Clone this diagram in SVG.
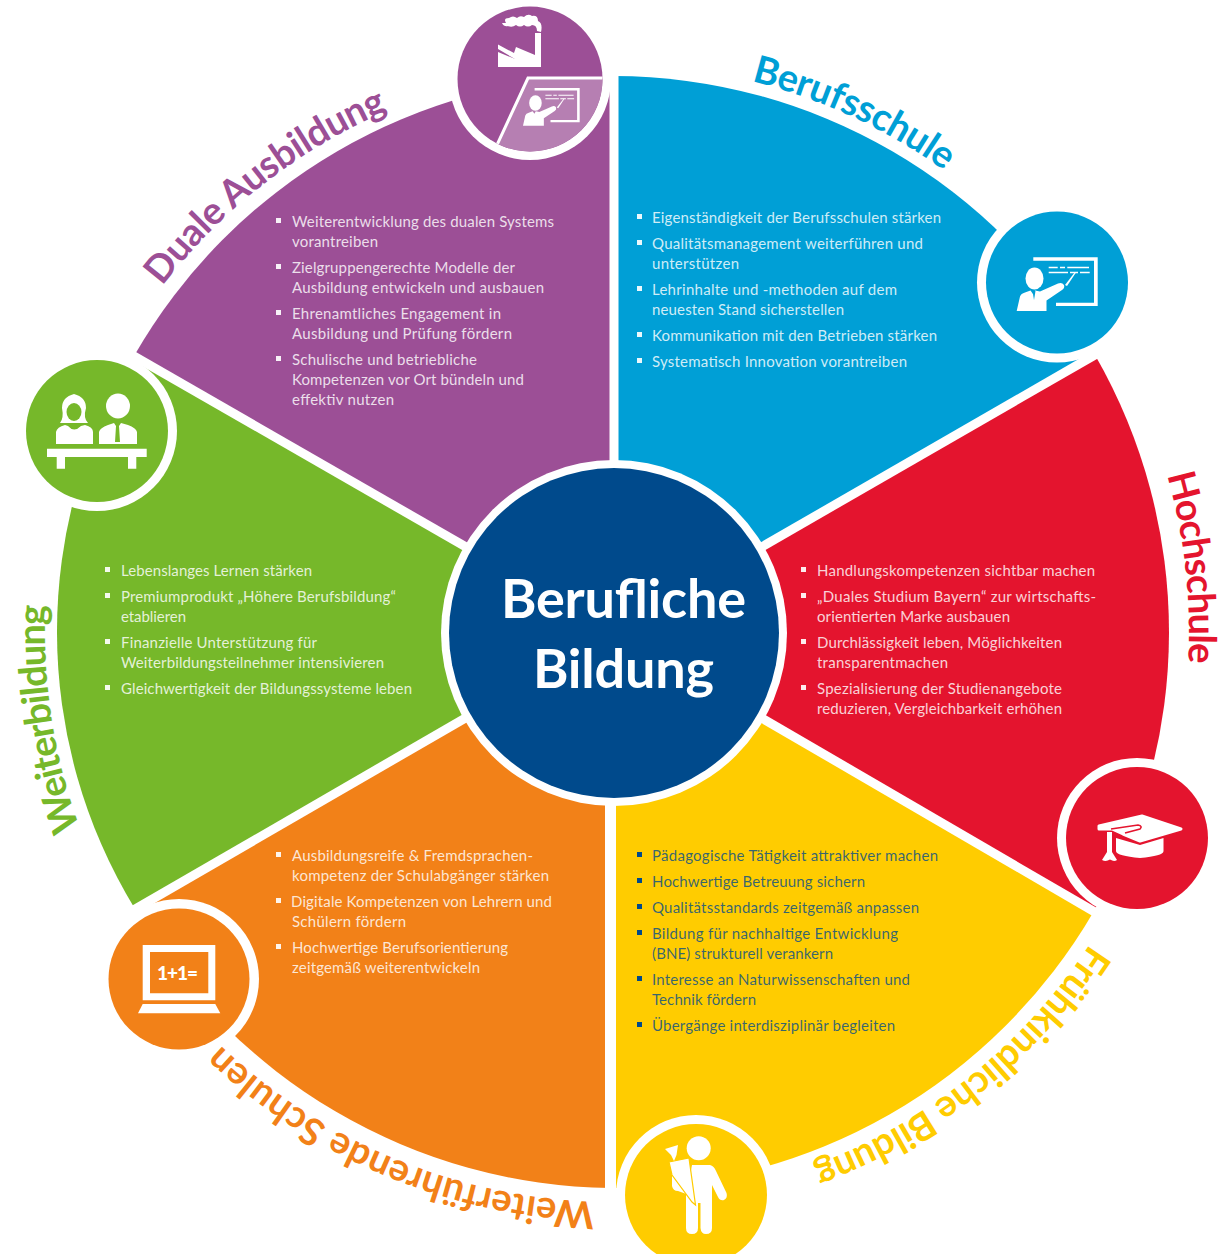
<svg xmlns="http://www.w3.org/2000/svg" width="1226" height="1254" viewBox="0 0 1226 1254">
<style>
text{font-family:Lato,"Noto Sans","Liberation Sans",sans-serif}
.b{font-size:15px;fill:#fff;fill-opacity:.82}
.y{font-size:15px;fill:#004a8c;fill-opacity:.78}
.d{fill:#fff;fill-opacity:.92}
.h{font-size:38px;font-weight:700}
.c{font-size:54px;font-weight:700;fill:#fff}
.ring{fill:#fff}
.w{fill:#fff}
</style>
<defs>
<path id="a1" d="M751.4,81.1A568,568 0 0 1 978.1,196.9"/>
<path id="a2" d="M1167.2,475.1A576,576 0 0 1 1183.4,712.2"/>
<path id="a3" d="M1090,944A570,570 0 0 1 760.5,1182.6"/>
<path id="a4" d="M595.1,1201.7A570,570 0 0 1 189.4,1013.4"/>
<path id="a5" d="M80,828.1A568,568 0 0 1 50.5,552.9"/>
<path id="a6" d="M162.3,286.2A568,568 0 0 1 437.5,91.8"/>
<g id="presenter">
<path class="w" d="M63.3,57.3H127.7V106H86V102.7H124V60.7H63.3Z"/>
<path class="w" d="M78.7,66.7H87.7V68.3H78.7ZM90,66.7H95V68.3H90ZM97.3,66.7H119V68.3H97.3ZM78.7,71.7H98V73.3H78.7ZM100,71.7H108V73.3H100ZM110,71.7H119.7V73.3H110Z"/>
<ellipse class="w" cx="64.5" cy="78.5" rx="9" ry="11"/>
<path class="w" d="M46.7,111L50,96.5Q51,93.5 55,92.5L60.5,90.5L63,94L65,90.5L70,91.5L88,83.5Q92,82 94,85Q95,88 92,90L76.5,100.5V111Z"/>
<path class="w" d="M95,85L105,72L106,72.5L97,86Z"/>
</g>
</defs>
<g id="duale-ausbildung">
<path d="M614,632V76A556,556 0 0 0 134,356Z" fill="#9c4f96"/>
<text class="h" fill="#9c4f96"><textPath href="#a6" textLength="289">Duale Ausbildung</textPath></text>
<g>
<rect class="d" x="276" y="218" width="5" height="5"/><rect class="d" x="276" y="264" width="5" height="5"/><rect class="d" x="276" y="310" width="5" height="5"/><rect class="d" x="276" y="356" width="5" height="5"/>
<text class="b" x="292" y="227" textLength="262">Weiterentwicklung des dualen Systems</text>
<text class="b" x="292" y="247" textLength="86">vorantreiben</text>
<text class="b" x="292" y="273" textLength="223">Zielgruppengerechte Modelle der</text>
<text class="b" x="292" y="293" textLength="252">Ausbildung entwickeln und ausbauen</text>
<text class="b" x="292" y="319" textLength="209">Ehrenamtliches Engagement in</text>
<text class="b" x="292" y="339" textLength="220">Ausbildung und Prüfung fördern</text>
<text class="b" x="292" y="365" textLength="185">Schulische und betriebliche</text>
<text class="b" x="292" y="385" textLength="232">Kompetenzen vor Ort bündeln und</text>
<text class="b" x="292" y="405" textLength="102">effektiv nutzen</text>
</g>
</g>
<g id="berufsschule">
<path d="M614,632V76A556,556 0 0 1 1095,355Z" fill="#009fd6"/>
<text class="h" fill="#009fd6"><textPath href="#a1" textLength="214">Berufsschule</textPath></text>
<g>
<rect class="d" x="637" y="214" width="5" height="5"/><rect class="d" x="637" y="240" width="5" height="5"/><rect class="d" x="637" y="286" width="5" height="5"/><rect class="d" x="637" y="332" width="5" height="5"/><rect class="d" x="637" y="358" width="5" height="5"/>
<text class="b" x="652" y="223" textLength="289">Eigenständigkeit der Berufsschulen stärken</text>
<text class="b" x="652" y="249" textLength="271">Qualitätsmanagement weiterführen und</text>
<text class="b" x="652" y="269" textLength="87">unterstützen</text>
<text class="b" x="652" y="295" textLength="245">Lehrinhalte und -methoden auf dem</text>
<text class="b" x="652" y="315" textLength="192">neuesten Stand sicherstellen</text>
<text class="b" x="652" y="341" textLength="285">Kommunikation mit den Betrieben stärken</text>
<text class="b" x="652" y="367" textLength="255">Systematisch Innovation vorantreiben</text>
</g>
</g>
<g id="hochschule">
<path d="M614,632L1095,355A556,556 0 0 1 1094,911Z" fill="#e4142e"/>
<text class="h" fill="#e4142e"><textPath href="#a2" textLength="190">Hochschule</textPath></text>
<g>
<rect class="d" x="801" y="567" width="5" height="5"/><rect class="d" x="801" y="593" width="5" height="5"/><rect class="d" x="801" y="639" width="5" height="5"/><rect class="d" x="801" y="685" width="5" height="5"/>
<text class="b" x="817" y="576" textLength="278">Handlungskompetenzen sichtbar machen</text>
<text class="b" x="817" y="602" textLength="279">„Duales Studium Bayern“ zur wirtschafts-</text>
<text class="b" x="817" y="622" textLength="193">orientierten Marke ausbauen</text>
<text class="b" x="817" y="648" textLength="245">Durchlässigkeit leben, Möglichkeiten</text>
<text class="b" x="817" y="668" textLength="131">transparentmachen</text>
<text class="b" x="817" y="694" textLength="245">Spezialisierung der Studienangebote</text>
<text class="b" x="817" y="714" textLength="245">reduzieren, Vergleichbarkeit erhöhen</text>
</g>
</g>
<g id="fruehkindliche-bildung">
<path d="M610.5,632L1094,911A556,556 0 0 1 610.5,1188Z" fill="#ffcc00"/>
<text class="h" fill="#ffcc00"><textPath href="#a3" textLength="361">Frühkindliche Bildung</textPath></text>
<g fill="#004a8c">
<rect x="637" y="852" width="5" height="5"/><rect x="637" y="878" width="5" height="5"/><rect x="637" y="904" width="5" height="5"/><rect x="637" y="930" width="5" height="5"/><rect x="637" y="976" width="5" height="5"/><rect x="637" y="1022" width="5" height="5"/>
</g>
<text class="y" x="652" y="861" textLength="286">Pädagogische Tätigkeit attraktiver machen</text>
<text class="y" x="652" y="887" textLength="213">Hochwertige Betreuung sichern</text>
<text class="y" x="652" y="913" textLength="267">Qualitätsstandards zeitgemäß anpassen</text>
<text class="y" x="652" y="939" textLength="246">Bildung für nachhaltige Entwicklung</text>
<text class="y" x="652" y="959" textLength="181">(BNE) strukturell verankern</text>
<text class="y" x="652" y="985" textLength="258">Interesse an Naturwissenschaften und</text>
<text class="y" x="652" y="1005" textLength="104">Technik fördern</text>
<text class="y" x="652" y="1031" textLength="243">Übergänge interdisziplinär begleiten</text>
</g>
<g id="weiterfuehrende-schulen">
<path d="M610.5,632V1188A556,556 0 0 1 135,909Z" fill="#f28118"/>
<text class="h" fill="#f28118"><textPath href="#a4" textLength="415">Weiterführende Schulen</textPath></text>
<g>
<rect class="d" x="276" y="852" width="5" height="5"/><rect class="d" x="276" y="898" width="5" height="5"/><rect class="d" x="276" y="944" width="5" height="5"/>
<text class="b" x="292" y="861" textLength="241">Ausbildungsreife &amp; Fremdsprachen-</text>
<text class="b" x="292" y="881" textLength="257">kompetenz der Schulabgänger stärken</text>
<text class="b" x="291" y="907" textLength="261">Digitale Kompetenzen von Lehrern und</text>
<text class="b" x="292" y="927" textLength="114">Schülern fördern</text>
<text class="b" x="292" y="953" textLength="216">Hochwertige Berufsorientierung</text>
<text class="b" x="292" y="973" textLength="188">zeitgemäß weiterentwickeln</text>
</g>
</g>
<g id="weiterbildung">
<path d="M614,632L135,909A532,532 0 0 1 134,356Z" fill="#76b82a"/>
<text class="h" fill="#76b82a"><textPath href="#a5" textLength="227">Weiterbildung</textPath></text>
<g>
<rect class="d" x="105" y="567" width="5" height="5"/><rect class="d" x="105" y="593" width="5" height="5"/><rect class="d" x="105" y="639" width="5" height="5"/><rect class="d" x="105" y="685" width="5" height="5"/>
<text class="b" x="121" y="576" textLength="191">Lebenslanges Lernen stärken</text>
<text class="b" x="121" y="602" textLength="275">Premiumprodukt „Höhere Berufsbildung“</text>
<text class="b" x="121" y="622" textLength="65">etablieren</text>
<text class="b" x="121" y="648" textLength="196">Finanzielle Unterstützung für</text>
<text class="b" x="121" y="668" textLength="263">Weiterbildungsteilnehmer intensivieren</text>
<text class="b" x="121" y="694" textLength="291">Gleichwertigkeit der Bildungssysteme leben</text>
</g>
</g>
<g id="connectors" stroke="#fff" stroke-width="9" fill="none">
<path d="M614,632V70"/>
<path d="M610.5,632V1195" stroke-width="11"/>
<path d="M614,632L1100,352"/>
<path d="M614,632L1100,915"/>
<path d="M614,632L125,915"/>
<path d="M614,632L125,351"/>
</g>
<g id="zentrum">
<circle cx="614" cy="633" r="173" fill="#fff"/>
<circle cx="614" cy="633" r="165" fill="#004a8c"/>
<text class="c" x="501" y="618" textLength="245">Berufliche</text>
<text class="c" x="533" y="688" textLength="181">Bildung</text>
</g>
<g id="icon-duale">
<circle class="ring" cx="530" cy="79" r="81"/>
<circle cx="530" cy="79" r="72.5" fill="#9c4f96"/>
<clipPath id="cp"><circle cx="530" cy="79" r="72.5"/></clipPath>
<path d="M528,78H610V160H490Z" fill="#b67fb2" stroke="#fff" stroke-width="3" clip-path="url(#cp)"/>
<path class="w" d="M498,44.5L514,53L516,47L535,55V33H541V67H498V52L515,59L498,49Z"/>
<path d="M506,23q-3,-5 3,-5q4,-3 8,0q3,-3 7,-1q4,-4 8,-1q6,-1 6,5q5,2 3,11l-4,-1q0,-6 -5,-6q-4,3 -8,0q-4,3 -8,0q-4,3 -8,1q-4,1 -6,-3z" class="w"/>
<use href="#presenter" transform="translate(490.3,48) scale(.7)"/>
</g>
<g id="icon-berufsschule">
<circle class="ring" cx="1057" cy="282.5" r="80"/>
<circle cx="1057" cy="282.5" r="71" fill="#009fd6"/>
<use href="#presenter" transform="translate(970,200)"/>
<path d="M1032.5,291L1034,300L1035.5,291Z" fill="#009fd6"/>
</g>
<g id="icon-hochschule">
<circle class="ring" cx="1137" cy="838" r="80"/>
<circle cx="1137" cy="838" r="71" fill="#e4142e"/>
<g transform="translate(1050,755)">
<path class="w" d="M66,83V96.3Q67,101 90,103Q113,101 113.5,96.3V83L90,90Z"/>
<path class="w" stroke="#fff" stroke-width="3" stroke-linejoin="round" d="M49,71L92,61L131,74L90,86L73,79L62,74H49Z"/>
<path d="M61,74L88,70Q93,71 90,74L75,78" fill="none" stroke="#e4142e" stroke-width="1.6"/>
<path class="w" d="M57,77H62V97L67,105Q64,107 60,104.500Q56,107 52,105L57,97Z"/>
</g>
</g>
<g id="icon-fruehkindlich">
<circle class="ring" cx="696" cy="1195" r="80"/>
<circle cx="696" cy="1195" r="71" fill="#ffcc00"/>
<g transform="translate(610,1100)">
<circle class="w" cx="88.7" cy="48.3" r="12"/>
<path class="w" d="M82,65H100Q104,66 106,71L116.5,93Q118,98 114,100Q110,101 108,97L102,85V128Q102,134 96,134Q91,134 90.5,128V103H88V128Q88,134 82,134Q76,134 76,128V96Z"/>
<path class="w" d="M62,72V86Q63,91 68,91L82,96V90L70,85L68,72Z"/>
<path class="w" stroke="#ffcc00" stroke-width="1.2" d="M59,62L79,58L85.500,105L82,102L62,75Z"/>
<path class="w" d="M55,49L68,45L66.500,55L64,61L61,55Z"/>
</g>
</g>
<g id="icon-weiterfuehrend">
<circle class="ring" cx="179" cy="979" r="80"/>
<circle cx="179" cy="979" r="70.5" fill="#f28118"/>
<g transform="translate(100,895)">
<path class="w" fill-rule="evenodd" d="M42.7,50H115.300V105.300H42.700ZM50,57V98.300H108.300V57Z"/>
<path class="w" d="M42.7,109H115.300L120.300,118.300H38Z"/>
<text x="57" y="85" fill="#fff" textLength="41" style="font-size:19px;font-weight:900">1+1=</text>
</g>
</g>
<g id="icon-weiterbildung">
<circle class="ring" cx="97" cy="431" r="80"/>
<circle cx="97" cy="431" r="71" fill="#76b82a"/>
<g transform="translate(15,350)">
<path class="w" d="M32,98.700H131.700V107H121.300V118.700H113V107H50V118.700H41.700V107H32Z"/>
<path class="w" d="M59,44Q47,47 47,58Q49,68 45,73H73Q68,68 71,58Q71,47 59,44Z"/>
<ellipse cx="59" cy="62" rx="7.500" ry="9" fill="#76b82a"/>
<path class="w" d="M41,94V82Q42,77 50,75L53,76Q59,83 66,76L70,75Q78,77 78,82V94Z"/>
<ellipse class="w" cx="103" cy="56" rx="12" ry="12.500"/>
<path class="w" d="M84,94V82Q85,78 93,75L99,73L101,76L100,92H105L104,76L106,73L113,75Q121,78 122,82V94Z"/>
</g>
</g>
</svg>
